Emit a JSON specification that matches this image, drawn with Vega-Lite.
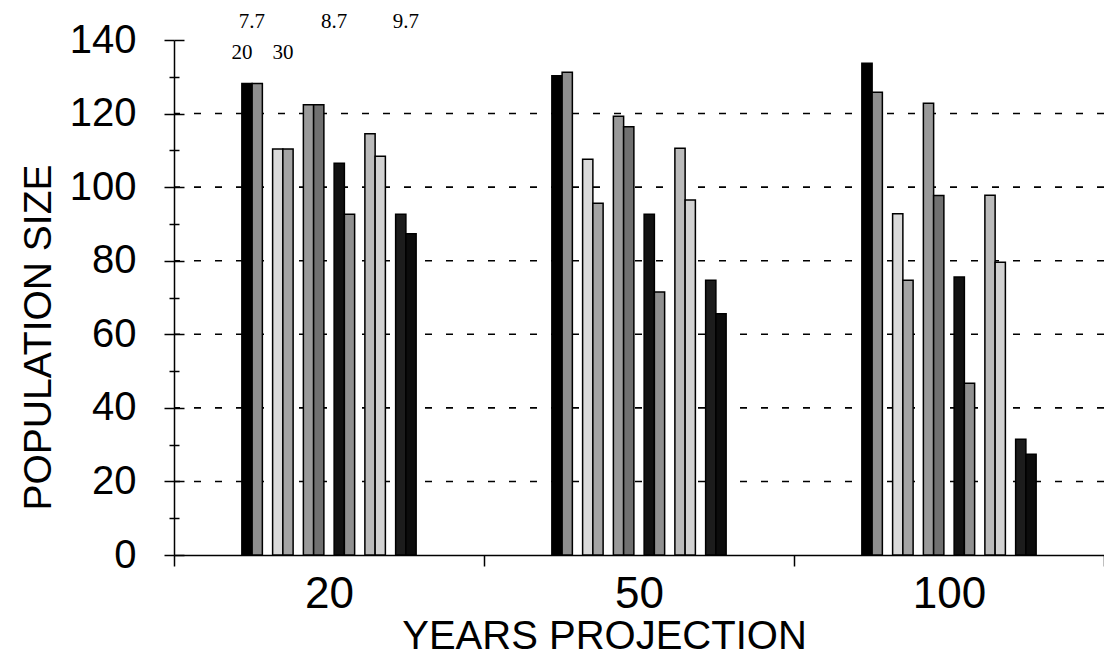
{
  "$schema": "https://vega.github.io/schema/vega-lite/v6.json",
  "autosize": "none",
  "width": 930,
  "height": 515,
  "padding": {"left": 174, "top": 40, "right": 0, "bottom": 105},
  "background": "white",
  "config": {"view": {"stroke": null}, "font": "Liberation Sans"},
  "datasets": {
    "bars": [
      {"year": "20", "slot": "s1", "v": 128.2}, {"year": "20", "slot": "s2", "v": 128.2},
      {"year": "20", "slot": "s3", "v": 110.4}, {"year": "20", "slot": "s4", "v": 110.4},
      {"year": "20", "slot": "s5", "v": 122.4}, {"year": "20", "slot": "s6", "v": 122.4},
      {"year": "20", "slot": "s7", "v": 106.5}, {"year": "20", "slot": "s8", "v": 92.6},
      {"year": "20", "slot": "s9", "v": 114.5}, {"year": "20", "slot": "s10", "v": 108.4},
      {"year": "20", "slot": "s11", "v": 92.6}, {"year": "20", "slot": "s12", "v": 87.3},
      {"year": "50", "slot": "s1", "v": 130.3}, {"year": "50", "slot": "s2", "v": 131.2},
      {"year": "50", "slot": "s3", "v": 107.6}, {"year": "50", "slot": "s4", "v": 95.6},
      {"year": "50", "slot": "s5", "v": 119.3}, {"year": "50", "slot": "s6", "v": 116.4},
      {"year": "50", "slot": "s7", "v": 92.6}, {"year": "50", "slot": "s8", "v": 71.5},
      {"year": "50", "slot": "s9", "v": 110.6}, {"year": "50", "slot": "s10", "v": 96.5},
      {"year": "50", "slot": "s11", "v": 74.7}, {"year": "50", "slot": "s12", "v": 65.6},
      {"year": "100", "slot": "s1", "v": 133.7}, {"year": "100", "slot": "s2", "v": 125.8},
      {"year": "100", "slot": "s3", "v": 92.8}, {"year": "100", "slot": "s4", "v": 74.7},
      {"year": "100", "slot": "s5", "v": 122.8}, {"year": "100", "slot": "s6", "v": 97.7},
      {"year": "100", "slot": "s7", "v": 75.6}, {"year": "100", "slot": "s8", "v": 46.7},
      {"year": "100", "slot": "s9", "v": 97.8}, {"year": "100", "slot": "s10", "v": 79.6},
      {"year": "100", "slot": "s11", "v": 31.5}, {"year": "100", "slot": "s12", "v": 27.4}
    ],
    "grid": [{"g": 20}, {"g": 40}, {"g": 60}, {"g": 80}, {"g": 100}, {"g": 120}],
    "lab1": [
      {"year": "20", "slot": "s1", "ty": 145, "t": "7.7"},
      {"year": "20", "slot": "g3", "ty": 145, "t": "8.7"},
      {"year": "20", "slot": "s11", "ty": 145, "t": "9.7"}
    ],
    "lab2": [
      {"year": "20", "slot": "s1", "ty": 136.5, "t": "20"},
      {"year": "20", "slot": "s4", "ty": 136.5, "t": "30"}
    ]
  },
  "resolve": {"scale": {"y": "shared"}, "axis": {"y": "independent"}},
  "layer": [
    {
      "data": {"name": "grid"},
      "mark": {"type": "rule", "stroke": "black", "strokeWidth": 1.6, "strokeDash": [7, 14]},
      "encoding": {
        "y": {
          "field": "g", "type": "quantitative",
          "scale": {"domain": [0, 140], "nice": false, "zero": true},
          "axis": {
            "orient": "left",
            "values": [0, 10, 20, 30, 40, 50, 60, 70, 80, 90, 100, 110, 120, 130, 140],
            "labelExpr": "datum.value % 20 == 0 ? datum.label : ''",
            "grid": false,
            "domain": true, "domainColor": "black", "domainWidth": 1.5,
            "tickColor": "black", "tickWidth": 1.5,
            "tickSize": {"condition": {"test": "datum.value % 20 != 0", "value": 5}, "value": 10},
            "labelFont": "Liberation Sans", "labelFontSize": 40, "labelColor": "black",
            "labelPadding": 28,
            "title": "POPULATION SIZE",
            "titleFont": "Liberation Sans", "titleFontSize": 39, "titleFontWeight": "normal",
            "titleColor": "black", "titleX": -136, "titleY": 297, "titleBaseline": "middle", "titleAlign": "center"
          }
        }
      }
    },
    {
      "data": {"name": "bars"},
      "mark": {"type": "bar", "stroke": "black", "strokeWidth": 1.5},
      "encoding": {
        "x": {
          "field": "year", "type": "nominal",
          "scale": {"domain": ["20", "50", "100"], "paddingInner": 0, "paddingOuter": 0},
          "axis": {
            "labelAngle": 0, "tickBand": "extent",
            "domainColor": "black", "domainWidth": 1.5,
            "tickColor": "black", "tickWidth": 1.5, "tickSize": 11,
            "labelFont": "Liberation Sans", "labelFontSize": 44, "labelColor": "black",
            "labelBaseline": "alphabetic", "labelPadding": 41,
            "title": "YEARS PROJECTION",
            "titleFont": "Liberation Sans", "titleFontSize": 40, "titleFontWeight": "normal",
            "titleColor": "black", "titleX": 430, "titleY": 93, "titleBaseline": "alphabetic", "titleAlign": "center"
          }
        },
        "xOffset": {
          "field": "slot", "type": "nominal",
          "scale": {
            "domain": ["p1", "p2", "p3", "p4", "p5", "p6", "s1", "s2", "g1", "s3", "s4", "g2", "s5", "s6", "g3", "s7", "s8", "g4", "s9", "s10", "g5", "s11", "s12", "q1", "q2", "q3", "q4", "q5", "q6"],
            "paddingInner": 0, "paddingOuter": 0.62
          }
        },
        "y": {
          "field": "v", "type": "quantitative",
          "scale": {"domain": [0, 140], "nice": false, "zero": true},
          "axis": {
            "orient": "left", "offset": -10,
            "values": [0, 20, 40, 60, 80, 100, 120, 140],
            "labels": false, "domain": false, "grid": false, "title": null,
            "tickColor": "black", "tickWidth": 1.5, "tickSize": 10
          }
        },
        "color": {
          "field": "slot", "type": "nominal", "legend": null,
          "scale": {
            "domain": ["s1", "s2", "s3", "s4", "s5", "s6", "s7", "s8", "s9", "s10", "s11", "s12"],
            "range": ["#000000", "#8f8f8f", "#dadada", "#a4a4a4", "#9a9a9a", "#707070", "#111111", "#909090", "#bbbbbb", "#d2d2d2", "#1c1c1c", "#0c0c0c"]
          }
        }
      }
    },
    {
      "data": {"name": "lab1"},
      "mark": {"type": "text", "font": "Liberation Serif", "fontSize": 21, "color": "black", "baseline": "middle", "align": "center", "dx": 5},
      "encoding": {
        "x": {"field": "year", "type": "nominal"},
        "xOffset": {"field": "slot", "type": "nominal"},
        "y": {
          "field": "ty", "type": "quantitative",
          "scale": {"domain": [0, 140], "nice": false, "zero": true},
          "axis": {
            "orient": "left", "offset": -5,
            "values": [10, 30, 50, 70, 90, 110, 130],
            "labels": false, "domain": false, "grid": false, "title": null,
            "tickColor": "black", "tickWidth": 1.5, "tickSize": 5
          }
        },
        "text": {"field": "t"}
      }
    },
    {
      "data": {"name": "lab2"},
      "mark": {"type": "text", "font": "Liberation Serif", "fontSize": 21, "color": "black", "baseline": "middle", "align": "center", "dx": -5},
      "encoding": {
        "x": {"field": "year", "type": "nominal"},
        "xOffset": {"field": "slot", "type": "nominal"},
        "y": {"field": "ty", "type": "quantitative", "scale": {"domain": [0, 140], "nice": false, "zero": true}, "axis": null},
        "text": {"field": "t"}
      }
    }
  ]
}
